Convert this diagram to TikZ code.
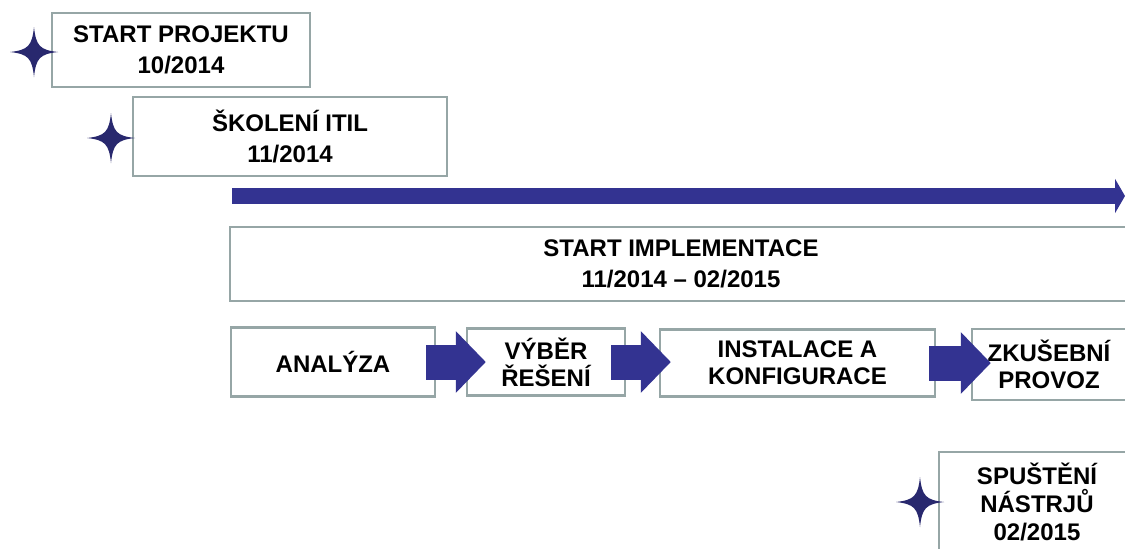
\documentclass[tikz,border=0pt]{standalone}
\usepackage{fontspec}
\setmainfont{Liberation Sans}
\usetikzlibrary{arrows.meta}

\definecolor{barblue}{RGB}{51,51,145}
\definecolor{starblue}{RGB}{40,40,110}
\definecolor{boxgray}{RGB}{150,166,166}

\tikzset{
  box/.style={draw=boxgray,line width=1.2pt,fill=white,inner sep=0pt,align=center,
    font=\bfseries\fontsize{12}{15.5}\selectfont},
  smallbox/.style={box,font=\bfseries\fontsize{12}{13.5}\selectfont},
  blockarrow/.style={draw=barblue,line width=17.5pt,-{Triangle[length=15pt,width=30pt]}},
  timearrow/.style={draw=barblue,line width=8pt,-{Triangle[length=5pt,width=17pt]}},
  spark/.pic={\fill[starblue] (-24,0) .. controls (-6,-2) and (-2,-6) .. (0,-25)
      .. controls (2,-6) and (6,-2) .. (24,0)
      .. controls (6,2) and (2,6) .. (0,25)
      .. controls (-2,6) and (-6,2) .. cycle;}
}

\begin{document}
\begin{tikzpicture}[x=0.5pt,y=-0.5pt]
\useasboundingbox (0,0) rectangle (1125,548);
\clip (0,0) rectangle (1125,548);
\fill[white] (0,0) rectangle (1125,548);
% Milestones at the top
\node[box,minimum width=129pt,minimum height=37pt] (proj) at (181,50) {START PROJEKTU\\10/2014};
\pic at (34,52) {spark};
\node[box,minimum width=157pt,minimum height=39.5pt] (itil) at (290,136.5) {ŠKOLENÍ ITIL\\11/2014};
\pic at (111,138) {spark};
% Time line
\coordinate (tl0) at (232,196);
\coordinate (tl1) at (1125,196);
\draw[timearrow] (tl0) -- (tl1);
\node[box,minimum width=451pt,minimum height=37pt] (impl) at (681,264) {START IMPLEMENTACE\\11/2014 -- 02/2015};
% Phases
\node[smallbox,minimum width=102pt,minimum height=34.5pt] (anal) at (333,362) {ANALÝZA};
\node[smallbox,minimum width=79pt,minimum height=33.5pt] (vyber) at (546,362) {VÝBĚR\\ŘEŠENÍ};
\node[smallbox,minimum width=137.5pt,minimum height=33.5pt] (inst) at (797.5,363) {INSTALACE A\\KONFIGURACE};
\node[smallbox,minimum width=77pt,minimum height=35.5pt] (zkus) at (1049,364.5) {ZKUŠEBNÍ\\PROVOZ};
% Done with phases; drawing arrows between them
\draw[blockarrow] ([xshift=-5pt]anal.east) -- ([xshift=10pt]anal.east -| vyber.west);
\draw[blockarrow] ([xshift=-7.5pt]vyber.east) -- ([xshift=6pt]vyber.east -| inst.west);
\draw[blockarrow] ([xshift=-3.5pt]inst.east) -- ([xshift=10pt]inst.east -| zkus.west);
% Final milestone
\node[box,minimum width=98pt,minimum height=50pt,font=\bfseries\fontsize{12}{14}\selectfont] (spust) at (1037,502) {SPUŠTĚNÍ\\NÁSTRJŮ\\02/2015};
\pic at (920,502) {spark};
\end{tikzpicture}
\end{document}
